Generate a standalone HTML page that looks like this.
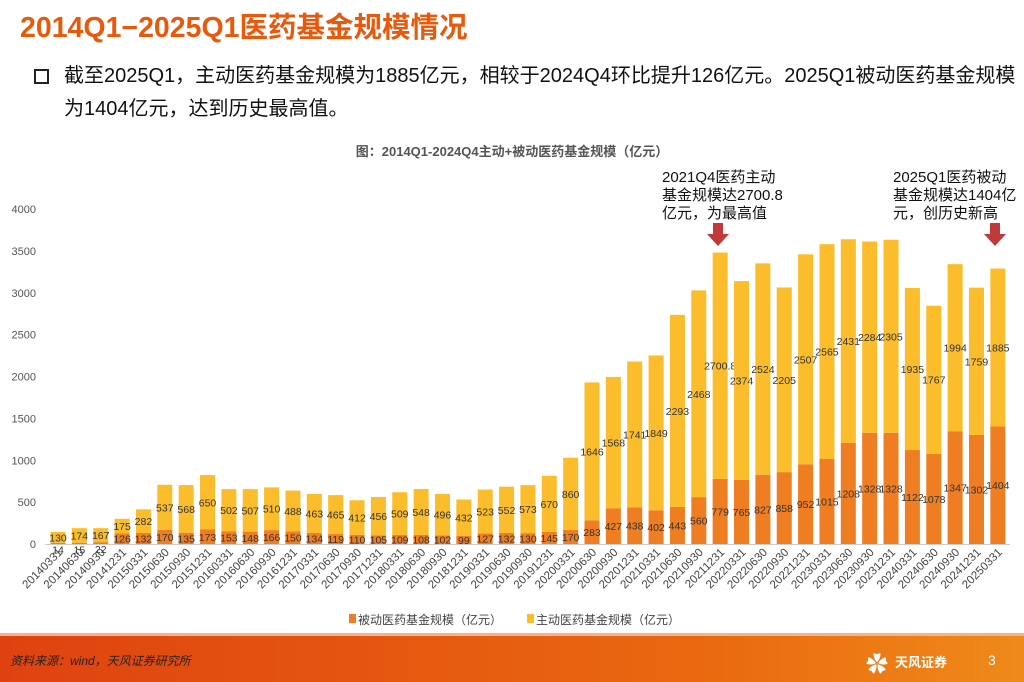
<!DOCTYPE html>
<html><head><meta charset="utf-8">
<style>
body{margin:0;width:1024px;height:682px;overflow:hidden;background:#fff;font-family:"Liberation Sans","Noto Sans CJK SC",sans-serif;position:relative}
.abs{position:absolute}
</style></head><body>
<div class="abs" style="left:20px;top:5px;font-size:28.5px;font-weight:bold;color:#e8590c;white-space:nowrap">2014Q1−2025Q1医药基金规模情况</div>
<div class="abs" style="left:34px;top:69px;width:11px;height:11px;border:2px solid #222"></div>
<div class="abs" style="left:64px;top:60px;font-size:20px;line-height:33px;color:#111;width:970px;white-space:nowrap">截至2025Q1，主动医药基金规模为1885亿元，相较于2024Q4环比提升126亿元。2025Q1被动医药基金规模<br>为1404亿元，达到历史最高值。</div>
<div class="abs" style="left:0;width:1024px;text-align:center;top:141px;font-size:13px;font-weight:bold;color:#555">图：2014Q1-2024Q4主动+被动医药基金规模（亿元）</div>
<svg class="abs" style="left:0;top:0" width="1024" height="682">
<g id="g"></g>
<text x="662" y="182" font-size="15" fill="#111">2021Q4医药主动</text>
<text x="662" y="200" font-size="15" fill="#111">基金规模达2700.8</text>
<text x="662" y="218" font-size="15" fill="#111">亿元，为最高值</text>
<text x="893" y="182" font-size="15" fill="#111">2025Q1医药被动</text>
<text x="893" y="200" font-size="15" fill="#111">基金规模达1404亿</text>
<text x="893" y="218" font-size="15" fill="#111">元，创历史新高</text>
<polygon points="713,223 723,223 723,234 729,234 718,246 707,234 713,234" fill="#c0393b"/>
<polygon points="990,223 1000,223 1000,234 1006,234 995,246 984,234 990,234" fill="#c0393b"/>
<rect x="349" y="614" width="7" height="9" fill="#ef7d22"/>
<text x="358" y="624" font-size="12" fill="#444">被动医药基金规模（亿元）</text>
<rect x="527" y="614" width="7" height="9" fill="#fbbd2b"/>
<text x="536" y="624" font-size="12" fill="#444">主动医药基金规模（亿元）</text>
</svg>
<div class="abs" style="left:0;top:636px;width:1024px;height:46px;background:linear-gradient(90deg,#df4210,#ea6a10 70%,#ef8a1a)"></div>
<div class="abs" style="left:0;top:633px;width:1024px;height:3px;background:#f4b38a"></div>
<div class="abs" style="left:10px;top:652px;font-size:12px;font-style:italic;color:#222">资料来源：wind，天风证券研究所</div>
<div class="abs" style="left:895px;top:652px;font-size:13px;font-weight:bold;color:#fff">天风证券</div>
<div class="abs" style="left:866px;top:647px;font-size:22px;color:#fff">✿</div>
<div class="abs" style="left:988px;top:652px;font-size:14px;color:#fff">3</div>
<script>
const categories=["20140331","20140630","20140930","20141231","20150331","20150630","20150930","20151231","20160331","20160630","20160930","20161231","20170331","20170630","20170930","20171231","20180331","20180630","20180930","20181231","20190331","20190630","20190930","20191231","20200331","20200630","20200930","20201231","20210331","20210630","20210930","20211231","20220331","20220630","20220930","20221231","20230331","20230630","20230930","20231231","20240331","20240630","20240930","20241231","20250331"];
const passive=[14,15,22,126,132,170,135,173,153,148,166,150,134,119,110,105,109,108,102,99,127,132,130,145,170,283,427,438,402,443,560,779,765,827,858,952,1015,1208,1328,1328,1122,1078,1347,1302,1404];
const active=[130,174,167,175,282,537,568,650,502,507,510,488,463,465,412,456,509,548,496,432,523,552,573,670,860,1646,1568,1741,1849,2293,2468,2700.8,2374,2524,2205,2507,2565,2431,2284,2305,1935,1767,1994,1759,1885];
const yTicks=[0,500,1000,1500,2000,2500,3000,3500,4000];
const NS='http://www.w3.org/2000/svg';
const g=document.getElementById('g');
const y=v=>544-v*0.08375;
const x=i=>58+i*21.36;
function mk(t,a,txt){const e=document.createElementNS(NS,t);for(const k in a)e.setAttribute(k,a[k]);if(txt!==undefined)e.textContent=txt;g.appendChild(e);return e;}
yTicks.forEach(t=>{
const e=mk('text',{x:36,y:y(t)+4,'text-anchor':'end','font-size':11,fill:'#555'},t);


});
const ax=mk('line',{x1:45,x2:1010,y1:544.5,y2:544.5,stroke:'#ccc'});


categories.forEach((c,i)=>{
const cx=x(i),w=15;
const p=mk('rect',{x:cx-w/2,y:y(passive[i]),width:w,height:544-y(passive[i]),fill:'#ef7d22'});


const a=mk('rect',{x:cx-w/2,y:y(passive[i]+active[i]),width:w,height:y(passive[i])-y(passive[i]+active[i]),fill:'#fbbd2b'});


const lp=mk('text',{x:cx,y:y(passive[i]/2)+4+(passive[i]<50?6:0),'text-anchor':'middle','font-size':10.5,fill:'#333'},passive[i]);


const la=mk('text',{x:cx,y:y(passive[i]+active[i]/2)+4,'text-anchor':'middle','font-size':10.5,fill:'#333'},active[i]);


const lx=mk('text',{x:cx+5,y:553,'text-anchor':'end','font-size':11.5,fill:'#444',transform:`rotate(-45 ${cx+5} 553)`},c);


});
</script>
</body></html>
